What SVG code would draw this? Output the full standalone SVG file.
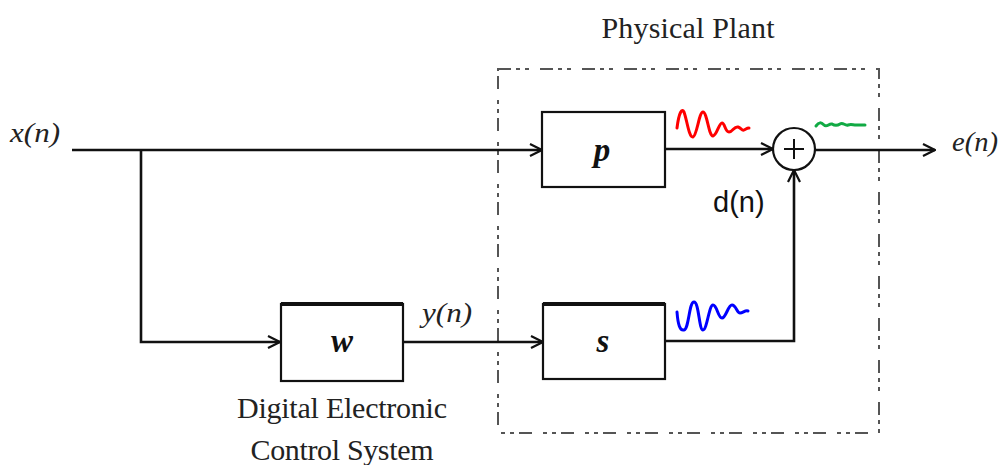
<svg xmlns="http://www.w3.org/2000/svg" width="1001" height="465" viewBox="0 0 1001 465">
<style>
.ln{fill:none;stroke:#111;stroke-width:2.6}
.box{fill:#fff;stroke:#111;stroke-width:2.2}
.lbl{font-family:"Liberation Serif",serif;font-style:italic;font-size:28px;fill:#222}
.blk{font-family:"Liberation Serif",serif;font-style:italic;font-weight:bold;font-size:33px;fill:#111;text-anchor:middle}
.cap{font-family:"Liberation Serif",serif;font-size:30px;fill:#222;text-anchor:middle}
.wave{fill:none;stroke-width:3;stroke-linecap:round;stroke-linejoin:round}
</style>
<defs>
<marker id="arr" viewBox="0 0 14 14" refX="13" refY="7" markerWidth="14" markerHeight="14" markerUnits="userSpaceOnUse" orient="auto">
<path d="M1,1 L13,7 L1,13" fill="none" stroke="#111" stroke-width="2.2"/>
</marker>
</defs>
<rect width="1001" height="465" fill="#fff"/>
<g id="plant-frame">
<rect x="498" y="69" width="381" height="364" fill="none" stroke="#555" stroke-width="2" stroke-dasharray="13 5 4 5 4 11"/>
<text class="cap" x="688" y="38" textLength="173" font-size="29">Physical  Plant</text>
</g>
<g id="connectors">
<path class="ln" d="M72,150 H542" marker-end="url(#arr)"/>
<path class="ln" d="M141,150 V342 H280" marker-end="url(#arr)"/>
<path class="ln" d="M403,342 H543" marker-end="url(#arr)"/>
<path class="ln" d="M665,149 H773" marker-end="url(#arr)"/>
<path class="ln" d="M665,341 H794 V170" marker-end="url(#arr)"/>
<path class="ln" d="M815,150 H935" marker-end="url(#arr)"/>
</g>
<g id="node-p">
<rect class="box" x="542" y="112" width="123" height="75"/>
<text class="blk" x="602" y="161">p</text>
</g>
<g id="node-w">
<rect class="box" x="281" y="304" width="122" height="77"/>
<line x1="281" y1="304" x2="403" y2="304" stroke="#111" stroke-width="4"/>
<text class="blk" x="342" y="352">w</text>
</g>
<g id="node-s">
<rect class="box" x="543" y="304" width="122" height="75"/>
<line x1="543" y1="304" x2="665" y2="304" stroke="#111" stroke-width="4"/>
<text class="blk" x="603" y="352">s</text>
</g>
<g id="node-sum">
<circle cx="794" cy="149" r="21" fill="#fff" stroke="#111" stroke-width="2.2"/>
<path d="M784,149 H804 M794,139 V159" stroke="#111" stroke-width="2"/>
</g>
<g id="waves">
<path class="wave" stroke="#f00" d="M677,128 C679,112 682,108 684,112 C687,120 689,138 693,137 C697,136 699,112 703,112 C707,112 709,137 713,136 C717,135 719,123 722,123 C725,123 725,132 729,132 C733,132 734,126 738,127 C741,128 742,131 744,130 C746,129 747,128 749,128"/>
<path class="wave" stroke="#00f" d="M677,312 C678,325 680,331 684,330 C689,329 689,302 694,302 C699,302 699,330 703,330 C707,330 709,305 713,305 C717,305 718,318 722,318 C726,318 728,305 732,305 C736,305 737,313 740,313 C743,313 745,310 748,311"/>
<path class="wave" stroke="#1a4" stroke-width="2.5" d="M816,126 C819,122 821,122 824,125 C827,128 829,123 832,124 C835,126 837,126 840,124 C843,122 845,126 848,125 C851,124 853,125 856,125 C859,125 862,125 865,125"/>
</g>
<g id="labels">
<text class="lbl" x="10" y="142" textLength="50" lengthAdjust="spacingAndGlyphs">x(n)</text>
<text class="lbl" x="952" y="151" textLength="46" lengthAdjust="spacingAndGlyphs">e(n)</text>
<text class="lbl" x="422" y="322" textLength="50" lengthAdjust="spacingAndGlyphs">y(n)</text>
<text x="713" y="212" font-family="'Liberation Sans',Arial,sans-serif" font-size="29" fill="#111">d(n)</text>
<text class="cap" x="342" y="418" textLength="210">Digital Electronic</text>
<text class="cap" x="342" y="460" textLength="183">Control System</text>
</g>
</svg>
